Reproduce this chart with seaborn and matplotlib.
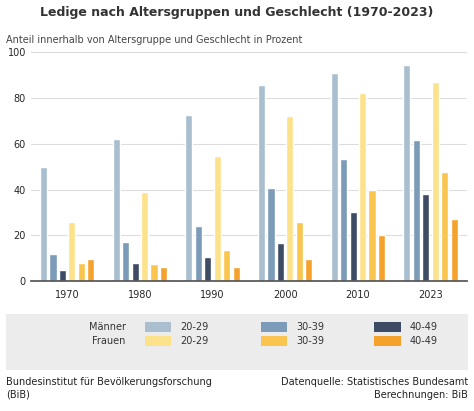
import matplotlib
matplotlib.use("Agg")
import matplotlib.pyplot as plt
import seaborn as sns
import pandas as pd
from matplotlib.patches import Rectangle

years = ["1970", "1980", "1990", "2000", "2010", "2023"]
series = ["Männer 20-29", "Männer 30-39", "Männer 40-49", "Frauen 20-29", "Frauen 30-39", "Frauen 40-49"]
m2029 = [50, 62, 72.5, 85.5, 91, 94.5]
m3039 = [12, 17, 24, 40.5, 53.5, 61.5]
m4049 = [5, 8, 10.5, 16.5, 30, 38]
f2029 = [26, 39, 54.5, 72, 82, 87]
f3039 = [8, 7.5, 13.5, 26, 40, 47.5]
f4049 = [9.5, 6, 6, 9.5, 20, 27]
colors = ["#a9bfd0", "#7b9bb9", "#3d4b65", "#fde28c", "#fac54f", "#f5a22d"]

rows = []
for s, vals in zip(series, [m2029, m3039, m4049, f2029, f3039, f4049]):
    for y, v in zip(years, vals):
        rows.append({"Jahr": y, "Serie": s, "Wert": v})
df = pd.DataFrame(rows)

sns.set_theme(style="white")
plt.rcParams['font.family'] = ['DejaVu Sans']
fig = plt.figure(figsize=(4.74, 4.11), dpi=100)
ax = fig.add_axes([0.065, 0.316, 0.92, 0.557])
sns.barplot(data=df, x="Jahr", y="Wert", hue="Serie", hue_order=series, order=years,
            palette=colors, width=0.78, gap=0.25, legend=False, ax=ax, saturation=1)
ax.set_ylim(0, 100)
ax.set_yticks(range(0, 101, 20))
ax.yaxis.grid(True, color="#dddddd", lw=0.8)
ax.set_axisbelow(True)
for s in ["top", "right", "left"]:
    ax.spines[s].set_visible(False)
ax.spines["bottom"].set_color("#555555")
ax.tick_params(axis="both", labelsize=7, length=0)
ax.tick_params(axis="x", length=3, color="#555555")
ax.set_xlabel("")
ax.set_ylabel("")

fig.text(0.5, 0.97, "Ledige nach Altersgruppen und Geschlecht (1970-2023)", ha="center", va="center",
         fontsize=9, fontweight="bold", color="#333333")
fig.text(0.012, 0.902, "Anteil innerhalb von Altersgruppe und Geschlecht in Prozent", ha="left", va="center",
         fontsize=7, color="#444444")

fig.patches.append(Rectangle((0.012, 0.10), 0.976, 0.135, transform=fig.transFigure,
                             facecolor="#ececec", edgecolor="none"))
xs = [0.305, 0.55, 0.79]
for r, (lab, yy) in enumerate([("Männer", 0.205), ("Frauen", 0.17)]):
    fig.text(0.265, yy, lab, ha="right", va="center", fontsize=7, color="#333333")
    for i in range(3):
        c = colors[r * 3 + i]
        fig.patches.append(Rectangle((xs[i], yy - 0.012), 0.055, 0.024, transform=fig.transFigure,
                                     facecolor=c, edgecolor="none"))
        fig.text(xs[i] + 0.075, yy, ["20-29", "30-39", "40-49"][i], ha="left", va="center",
                 fontsize=7, color="#333333")

fig.text(0.012, 0.055, "Bundesinstitut für Bevölkerungsforschung\n(BiB)", ha="left", va="center",
         fontsize=7, color="#222222", linespacing=1.3)
fig.text(0.988, 0.055, "Datenquelle: Statistisches Bundesamt\nBerechnungen: BiB", ha="right", va="center",
         fontsize=7, color="#222222", linespacing=1.3, multialignment="right")

fig.savefig("out.png", dpi=100)
